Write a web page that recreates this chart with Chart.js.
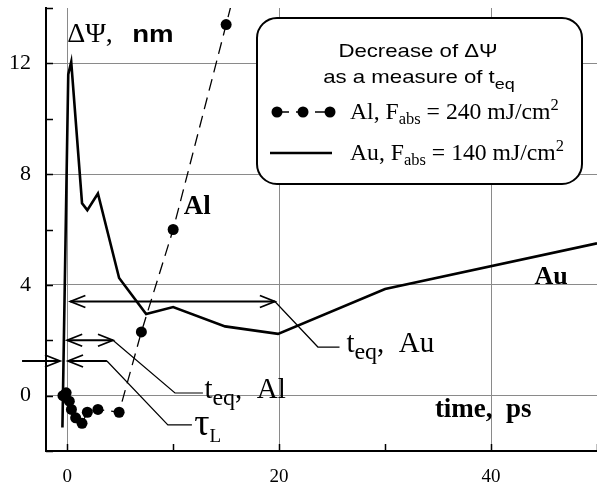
<!DOCTYPE html>
<html><head><meta charset="utf-8">
<script src="https://cdn.jsdelivr.net/npm/chart.js@4.4.0/dist/chart.umd.min.js"></script>
<style>html,body{margin:0;padding:0;background:#fff;}#wrap{width:597px;height:491px;}</style>
</head><body><div id="wrap"><canvas id="c" width="597" height="491"></canvas></div>
<script>
// ---- data ----
const auTime = [-0.45, 0.1, 0.38, 1.4, 1.9, 2.9, 4.9, 7.45, 10.0, 14.9, 19.9, 30.0, 50.0];
const auPsi  = [-1.15, 11.6, 12.05, 6.95, 6.7, 7.3, 4.25, 2.95, 3.2, 2.5, 2.23, 3.85, 5.5];
const alTime = [-0.4, -0.1, 0.2, 0.4, 0.8, 1.4, 1.9, 2.9, 4.9, 7.0, 10.0, 15.0, 15.8];
const alPsi  = [0.0, 0.1, -0.2, -0.5, -0.8, -1.0, -0.6, -0.5, -0.6, 2.3, 6.0, 13.4, 14.6];
const xTicks = [0, 10, 20, 30, 40, 50];
const xTickLabels = [0, 20, 40];
const yTicks = [-2, 0, 2, 4, 6, 8, 10, 12, 14];
const yTickLabels = [0, 4, 8, 12];

const SERIF = '"Liberation Serif", "Times New Roman", serif';
const SANS = '"Liberation Sans", Arial, sans-serif';

const toXY = (xs, ys) => xs.map((x, i) => ({x: x, y: ys[i]}));

// draw a sequence of text runs: [text, font, dy]
function runs(ctx, x, y, parts, sx) {
  sx = sx || 1;
  ctx.save();
  ctx.translate(x, y);
  ctx.scale(sx, 1);
  ctx.textBaseline = 'alphabetic';
  ctx.textAlign = 'left';
  ctx.fillStyle = '#000';
  let cx = 0;
  for (const p of parts) {
    ctx.font = p[1];
    ctx.fillText(p[0], cx, p[2] || 0);
    cx += ctx.measureText(p[0]).width;
  }
  ctx.restore();
  return cx * sx;
}
function runsWidth(ctx, parts) {
  let w = 0;
  for (const p of parts) { ctx.font = p[1]; w += ctx.measureText(p[0]).width; }
  return w;
}
function head(ctx, tx, ty, dir) {
  ctx.beginPath();
  ctx.moveTo(tx - dir * 15, ty - 6);
  ctx.lineTo(tx, ty);
  ctx.lineTo(tx - dir * 15, ty + 6);
  ctx.stroke();
}

const annot = {
  id: 'annot',
  afterDraw(chart) {
    const ctx = chart.ctx, xs = chart.scales.x, ys = chart.scales.y;
    const px = v => xs.getPixelForValue(v), py = v => ys.getPixelForValue(v);
    const a = chart.chartArea;
    ctx.save();
    ctx.strokeStyle = '#000';
    ctx.lineCap = 'butt';
    // inward tick marks
    ctx.lineWidth = 1.5;
    ctx.beginPath();
    for (const v of yTicks) { const y = Math.round(py(v)) + 0.5; ctx.moveTo(a.left, y); ctx.lineTo(a.left + 7, y); }
    for (const v of xTicks) { const x = Math.round(px(v)) + 0.5; ctx.moveTo(x, a.bottom); ctx.lineTo(x, a.bottom - 7); }
    ctx.stroke();

    // double arrows and leaders
    ctx.lineWidth = 1.8;
    let y1 = py(3.4);
    ctx.beginPath(); ctx.moveTo(px(0.3), y1); ctx.lineTo(px(19.6), y1); ctx.stroke();
    head(ctx, px(0.3), y1, -1); head(ctx, px(19.6), y1, 1);
    let y2 = py(2.0);
    ctx.beginPath(); ctx.moveTo(px(0.0), y2); ctx.lineTo(px(4.32), y2); ctx.stroke();
    head(ctx, px(0.0), y2, -1); head(ctx, px(4.32), y2, 1);
    let y3 = py(1.25);
    ctx.beginPath(); ctx.moveTo(px(-4.26), y3); ctx.lineTo(px(-0.68), y3); ctx.stroke();
    head(ctx, px(-0.68), y3, 1);
    ctx.beginPath(); ctx.moveTo(px(0.08), y3); ctx.lineTo(px(3.75), y3); ctx.stroke();
    head(ctx, px(0.08), y3, -1);

    ctx.lineWidth = 1.2;
    ctx.beginPath();
    ctx.moveTo(px(19.6), y1); ctx.lineTo(px(23.66), py(1.755)); ctx.lineTo(px(25.7), py(1.755));
    ctx.moveTo(px(4.32), y2); ctx.lineTo(px(10.17), py(0.094)); ctx.lineTo(px(12.81), py(0.094));
    ctx.moveTo(px(3.75), y3); ctx.lineTo(px(9.5), py(-1.06)); ctx.lineTo(px(11.77), py(-1.06));
    ctx.stroke();

    // labels
    const f = (s, w, fam) => (w ? 'bold ' : '') + s + 'px ' + fam;
    runs(ctx, px(26.35), py(1.57), [['t', f(29, 0, SERIF)], ['eq', f(24, 0, SERIF), 7], [',  Au', f(29, 0, SERIF)]]);
    runs(ctx, px(12.95), py(-0.1), [['t', f(29, 0, SERIF)], ['eq', f(24, 0, SERIF), 7], [',  Al', f(29, 0, SERIF)]]);
    runs(ctx, px(12.0), py(-1.42), [['\u03C4', f(38, 0, SERIF)], ['L', f(19, 0, SERIF), 7]]);
    runs(ctx, px(11.0), py(6.56), [['Al', f(27, 1, SERIF)]]);
    runs(ctx, px(44.1), py(4.03), [['Au', f(26, 1, SERIF)]]);
    runs(ctx, px(34.7), py(-0.77), [['time,  ps', f(27, 1, SERIF)]]);
    runs(ctx, px(0.0), py(12.77), [['\u0394\u03A8,', f(28, 0, SERIF)]]);
    runs(ctx, px(0.0) + 65, py(12.77), [['nm', f(23, 1, SANS)]], 1.2);

    // legend box
    const L = 257, T = 18, R = 582, B = 184, r = 20;
    ctx.beginPath();
    ctx.moveTo(L + r, T); ctx.lineTo(R - r, T); ctx.arcTo(R, T, R, T + r, r);
    ctx.lineTo(R, B - r); ctx.arcTo(R, B, R - r, B, r);
    ctx.lineTo(L + r, B); ctx.arcTo(L, B, L, B - r, r);
    ctx.lineTo(L, T + r); ctx.arcTo(L, T, L + r, T, r);
    ctx.closePath();
    ctx.fillStyle = '#fff'; ctx.fill();
    ctx.lineWidth = 2; ctx.stroke();

    const sx = 1.2;
    const t1 = [['Decrease of \u0394\u03A8', f(18.5, 0, SANS)]];
    runs(ctx, 418 - runsWidth(ctx, t1) * sx / 2, 57, t1, sx);
    const t2 = [['as a measure of t', f(18.5, 0, SANS)], ['eq', f(15, 0, SANS), 6]];
    runs(ctx, 419 - runsWidth(ctx, t2) * sx / 2, 83, t2, sx);

    // legend symbols
    ctx.save();
    ctx.lineWidth = 1.3; ctx.setLineDash([12, 7]);
    ctx.beginPath(); ctx.moveTo(277, 112); ctx.lineTo(330, 112); ctx.stroke();
    ctx.restore();
    ctx.fillStyle = '#000';
    for (const cx of [277, 303, 330]) { ctx.beginPath(); ctx.arc(cx, 112, 5.5, 0, Math.PI * 2); ctx.fill(); }
    ctx.lineWidth = 2.6;
    ctx.beginPath(); ctx.moveTo(270, 153); ctx.lineTo(332, 153); ctx.stroke();
    const le1 = [['Al, F', f(23, 0, SERIF)], ['abs', f(16, 0, SERIF), 5], [' = 240 mJ/cm', f(23, 0, SERIF)], ['2', f(16, 0, SERIF), -9]];
    const le2 = [['Au, F', f(23, 0, SERIF)], ['abs', f(16, 0, SERIF), 5], [' = 140 mJ/cm', f(23, 0, SERIF)], ['2', f(16, 0, SERIF), -9]];
    runs(ctx, 350, 119, le1, 1.03);
    runs(ctx, 350, 160, le2, 1.03);
    ctx.restore();
  }
};

const zeroPad = s => { s.paddingLeft = 0; s.paddingRight = 0; s.paddingTop = 0; s.paddingBottom = 0; };

new Chart(document.getElementById('c'), {
  type: 'line',
  data: {
    datasets: [
      {
        label: 'Al, Fabs = 240 mJ/cm2',
        data: toXY(alTime, alPsi),
        borderColor: '#000', backgroundColor: '#000',
        borderWidth: 1.3, borderDash: [12, 7],
        pointRadius: 5.5, pointBorderWidth: 0, pointHoverRadius: 5.5,
        tension: 0
      },
      {
        label: 'Au, Fabs = 140 mJ/cm2',
        data: toXY(auTime, auPsi),
        borderColor: '#000', backgroundColor: '#000',
        borderWidth: 2.6, pointRadius: 0, tension: 0,
        borderJoinStyle: 'miter'
      }
    ]
  },
  options: {
    responsive: false,
    animation: false,
    devicePixelRatio: 1,
    layout: {autoPadding: false, padding: {top: 8, right: 0, left: 0, bottom: 0}},
    plugins: {legend: {display: false}, tooltip: {enabled: false}},
    scales: {
      x: {
        type: 'linear', min: -2, max: 50,
        afterBuildTicks: s => { s.ticks = xTicks.map(v => ({value: v})); },
        afterFit: s => { s.height = 40; zeroPad(s); },
        grid: {color: '#8a8a8a', lineWidth: 1, drawTicks: false},
        border: {display: true, color: '#000', width: 2},
        ticks: {
          callback: v => xTickLabels.includes(v) ? String(v) : null,
          font: {family: SERIF, size: 19}, color: '#000', padding: 15,
          maxRotation: 0, autoSkip: false
        }
      },
      y: {
        type: 'linear', min: -2, max: 14,
        afterBuildTicks: s => { s.ticks = yTicks.map(v => ({value: v})); },
        afterFit: s => { s.width = 46; zeroPad(s); },
        grid: {color: '#8a8a8a', lineWidth: 1, drawTicks: false},
        border: {display: true, color: '#000', width: 2},
        ticks: {
          callback: v => yTickLabels.includes(v) ? String(v) : null,
          font: {family: SERIF, size: 22}, color: '#000', padding: 15,
          autoSkip: false
        }
      }
    }
  },
  plugins: [annot]
});
</script>
</body></html>
